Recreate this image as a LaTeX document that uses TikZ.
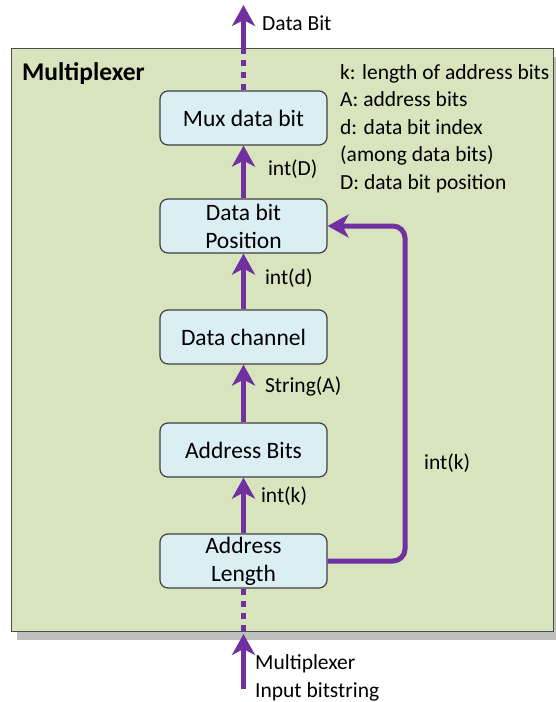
\documentclass[tikz,border=0pt]{standalone}
\usepackage{fontspec}
\setmainfont{Carlito}
\usetikzlibrary{arrows.meta}

\definecolor{muxpurple}{HTML}{7030A0}
\definecolor{muxgreen}{HTML}{D7E4BD}
\definecolor{muxblue}{HTML}{DAEEF3}

\tikzset{
    block/.style={draw=black!75, fill=muxblue, rounded corners=8pt, line width=1.2pt,
        minimum width=167pt, minimum height=54pt, inner sep=1pt, align=center,
        font=\fontsize{23.5}{28}\selectfont},
    flow/.style={muxpurple, line width=5pt, -{Stealth[length=21pt,width=23pt,inset=6pt]}},
    dotflow/.style={muxpurple, line width=5pt, dash pattern=on 6pt off 6pt},
    lbl/.style={text=black, font=\fontsize{21.5}{27.5}\selectfont, anchor=west, inner sep=0pt, align=left},
}

\begin{document}
\begin{tikzpicture}[x=1pt, y=-1pt]

    \useasboundingbox (0,0) rectangle (556,702);

    % Outer box with its shadow
    \fill[black!25] (17,57) rectangle (560,640);
    \draw[fill=muxgreen, draw=black!70, line width=1pt] (11,48) rectangle (553,631);
    \node[lbl, font=\fontsize{25.5}{28}\selectfont\bfseries] (title) at (22,74) {Multiplexer};

    % Blocks
    \node[block] (mux)  at (243.5,118) {Mux data bit};
    \node[block] (pos)  at (243.5,226) {Data bit\\Position};
    \node[block] (chan) at (243.5,337) {Data channel};
    \node[block] (abit) at (243.5,450) {Address Bits};
    \node[block] (alen) at (243.5,561) {Address\\Length};

    % Legend
    \node[lbl, anchor=north west] (legend) at (340,64)
        {k: length of address bits\\A: address bits\\d: data bit index\\(among data bits)\\D: data bit position};

    % Inner flow
    \draw[flow] (alen) -- (abit) node[lbl, pos=0.5, xshift=15pt, yshift=9pt] (lk) {int(k)};
    \draw[flow] (abit) -- (chan) node[lbl, pos=0.5, xshift=19pt, yshift=7pt] (la) {String(A)};
    \draw[flow] (chan) -- (pos) node[lbl, pos=0.5, xshift=19pt, yshift=3pt] (ld) {int(d)};
    \draw[flow] (pos) -- (mux) node[lbl, pos=0.5, xshift=22pt, yshift=3pt] (lD) {int(D)};
    \coordinate (turn) at (405,561);
    \draw[flow, rounded corners=12pt] (alen.east) -- (turn) |- (pos.east);
    \node[lbl] (lk2) at (424,463) {int(k)};

    % Input and output
    \coordinate (topin) at (243.5,50);
    \coordinate (topout) at (243.5,5);
    \coordinate (botin) at (243.5,631);
    \coordinate (botout) at (243.5,634);
    \coordinate (botsrc) at (243.5,689);
    \draw[dotflow] (mux.north) -- (topin);
    \draw[flow] (topin) -- (topout);
    \node[lbl] (dbit) at (262,23) {Data Bit};
    \draw[dotflow] (alen.south) -- (botin);
    \draw[flow] (botsrc) -- (botout);
    \node[lbl] (input) at (255,678) {Multiplexer\\Input bitstring};

\end{tikzpicture}
\end{document}
